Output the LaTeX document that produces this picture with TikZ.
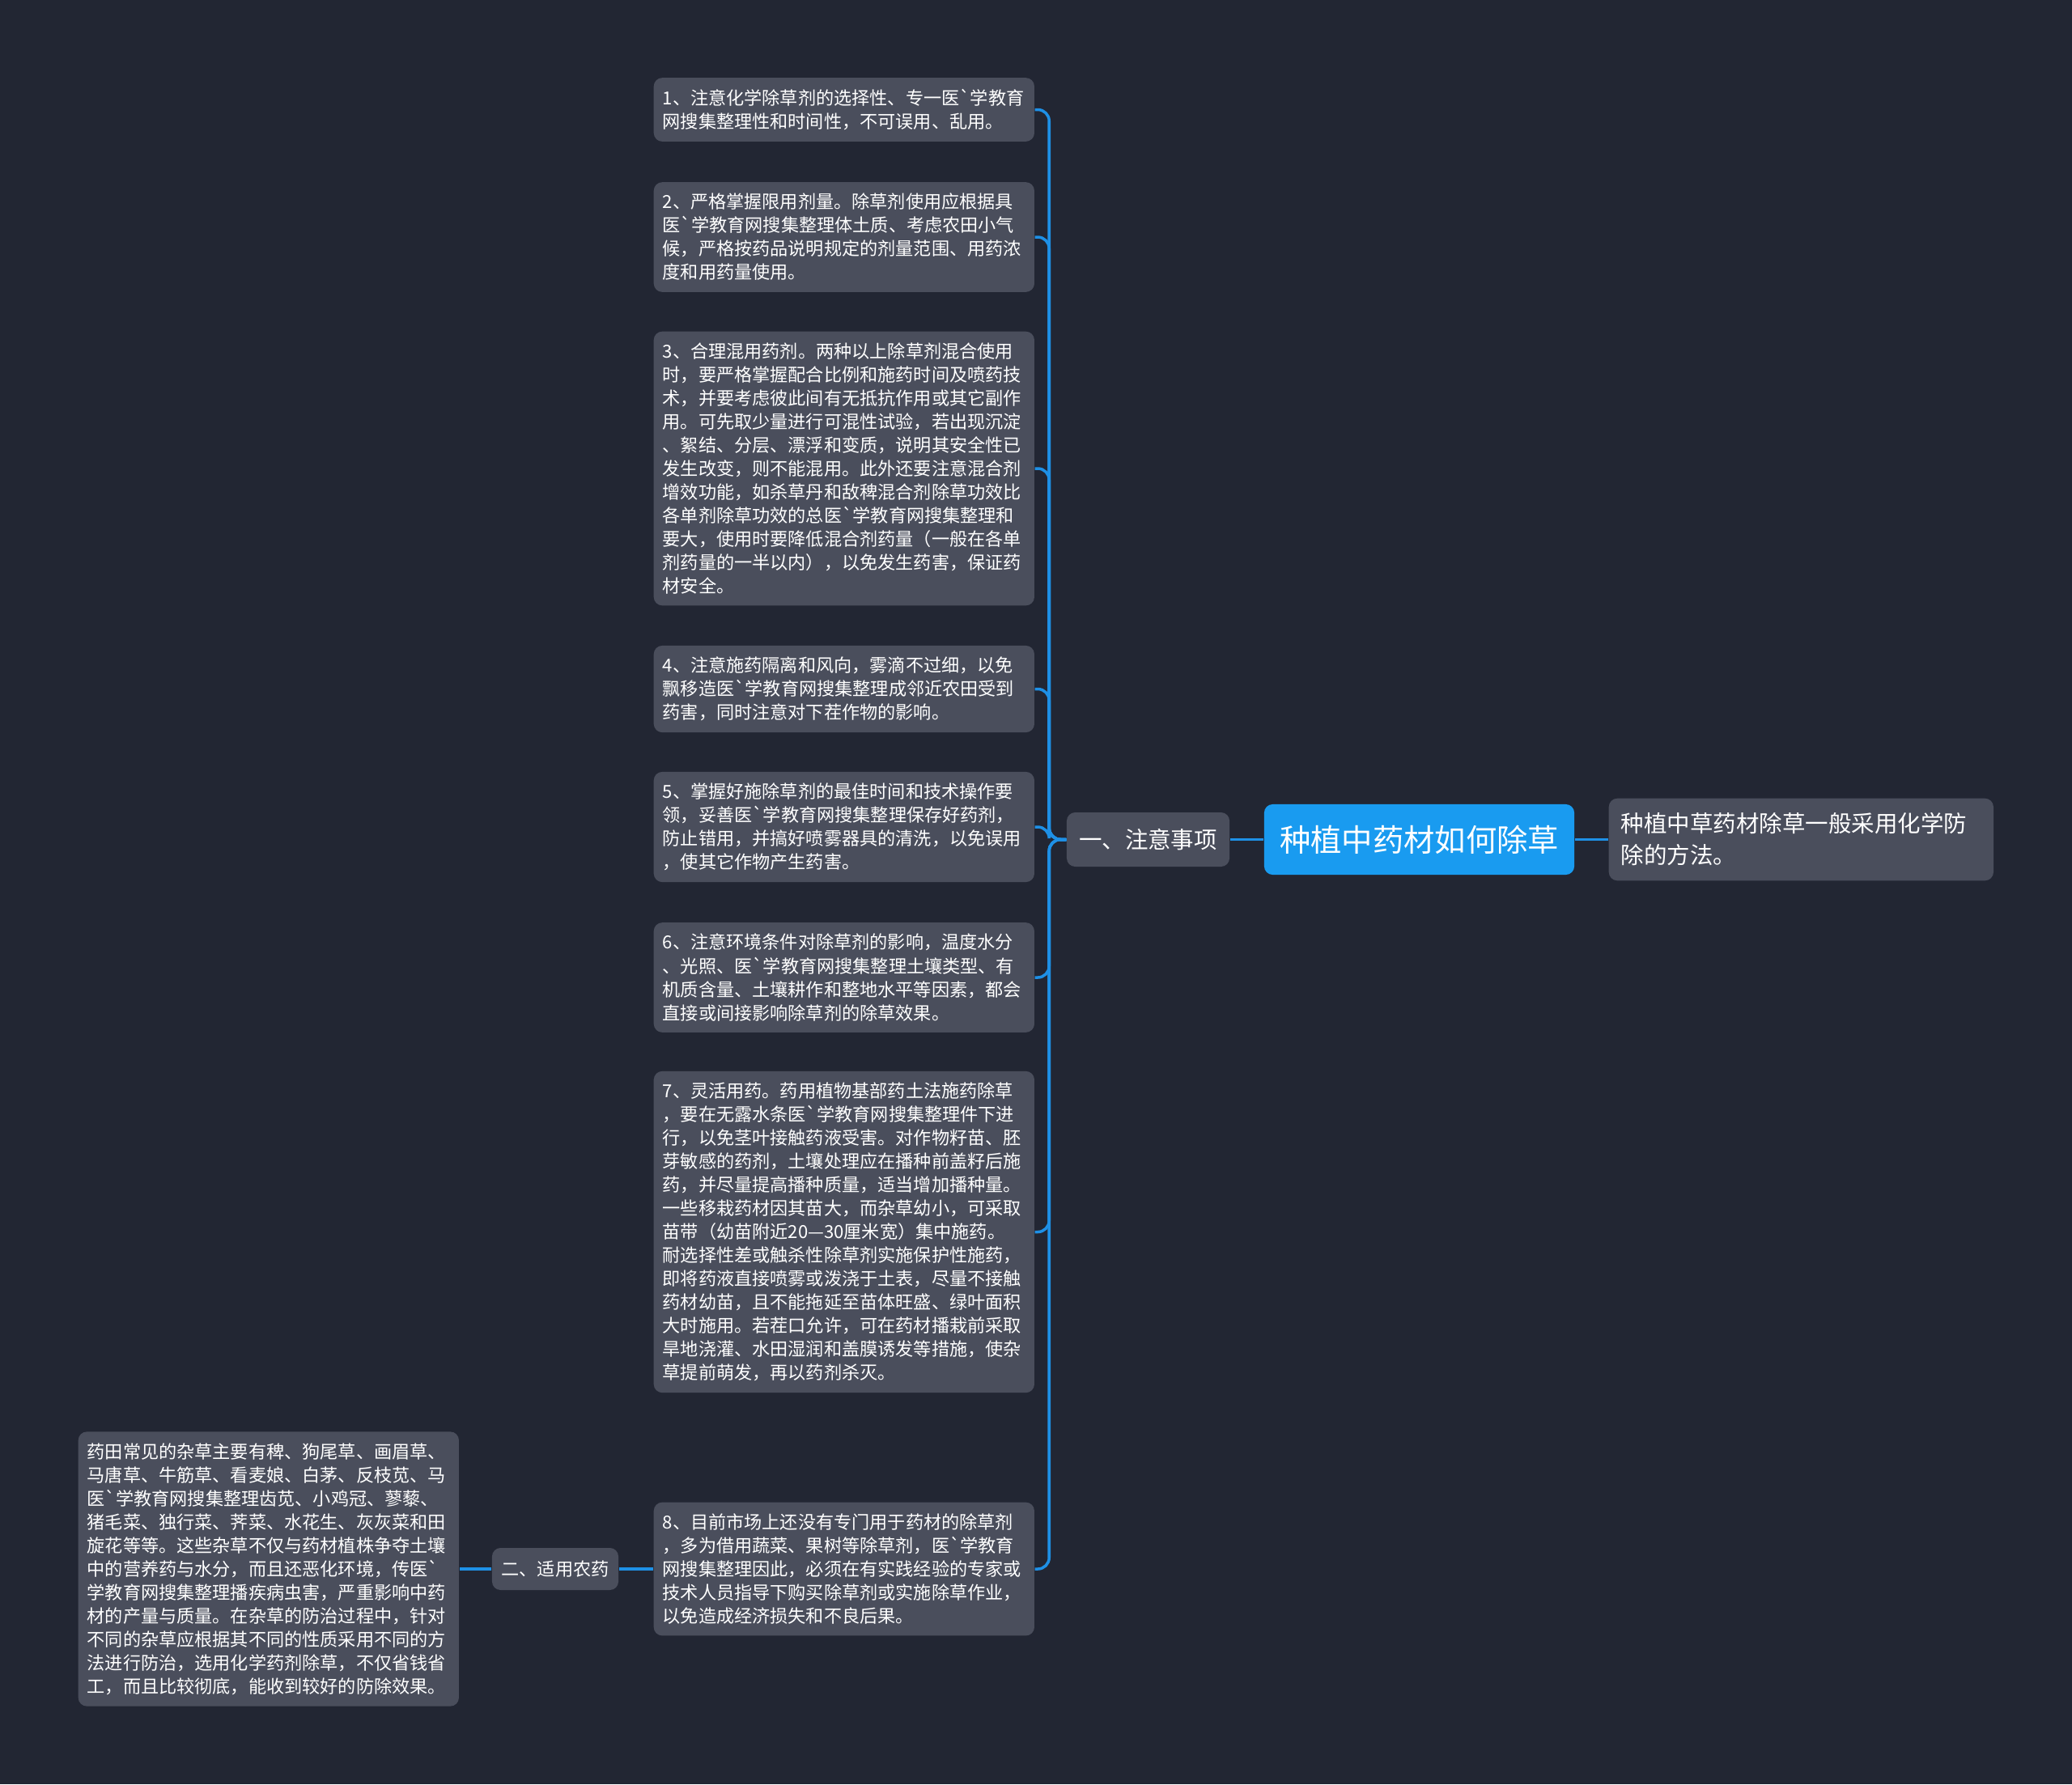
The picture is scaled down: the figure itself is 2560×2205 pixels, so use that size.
\documentclass[tikz,border=0pt]{standalone}
\usepackage{fontspec}
\setmainfont{Noto Sans CJK SC}[Ligatures=TeXOff]
\usepackage{tikz}
\definecolor{bgc}{HTML}{222633}
\definecolor{boxc}{HTML}{4A4E5C}
\definecolor{linec}{HTML}{1E90E6}
\definecolor{rootc}{HTML}{199BF0}

\begin{document}
\begin{tikzpicture}[x=0.01cm,y=-0.01cm]
  \tikzstyle{leaf}=[fill=boxc,text=white,rounded corners=3pt,anchor=west,align=left,
    text width=4.48cm,inner xsep=0.11cm,inner ysep=0.14cm,font=\fontsize{6.3}{8.25}\selectfont]
  \tikzstyle{topic}=[fill=boxc,text=white,rounded corners=3pt,inner sep=0pt]
  \tikzstyle{link}=[draw=linec,line width=1pt,rounded corners=4pt]
  % background and page size
  \fill[bgc] (0,0) rectangle (2560,2205);
  \useasboundingbox (0,0) rectangle (2560,2205);

  % centre
  \node[fill=rootc,text=white,rounded corners=3pt,inner sep=0pt,minimum width=3.83cm,minimum height=0.87cm,
    font=\fontsize{10.9}{13}\selectfont] (root) at (1753.5,1037.5) {种植中药材如何除草};
  \node[topic,anchor=west,align=left,text width=4.45cm,inner xsep=0.15cm,inner ysep=0.18cm,
    font=\fontsize{8.1}{11.1}\selectfont] (intro) at (1987,1037.5) {种植中草药材除草一般采用化学防\\除的方法。};
  \node[topic,minimum width=2.01cm,minimum height=0.67cm,font=\fontsize{8.1}{10}\selectfont] (notes) at (1418.5,1037.5) {一、注意事项};

  % the eight points
  \node[leaf] (p1) at (807,135.5) {1、注意化学除草剂的选择性、专一医`学教育\\网搜集整理性和时间性，不可误用、乱用。};
  \node[leaf] (p2) at (807,293) {2、严格掌握限用剂量。除草剂使用应根据具\\医`学教育网搜集整理体土质、考虑农田小气\\候，严格按药品说明规定的剂量范围、用药浓\\度和用药量使用。};
  \node[leaf] (p3) at (807,579) {3、合理混用药剂。两种以上除草剂混合使用\\时，要严格掌握配合比例和施药时间及喷药技\\术，并要考虑彼此间有无抵抗作用或其它副作\\用。可先取少量进行可混性试验，若出现沉淀\\、絮结、分层、漂浮和变质，说明其安全性已\\发生改变，则不能混用。此外还要注意混合剂\\增效功能，如杀草丹和敌稗混合剂除草功效比\\各单剂除草功效的总医`学教育网搜集整理和\\要大，使用时要降低混合剂药量（一般在各单\\剂药量的一半以内），以免发生药害，保证药\\材安全。};
  \node[leaf] (p4) at (807,851.5) {4、注意施药隔离和风向，雾滴不过细，以免\\飘移造医`学教育网搜集整理成邻近农田受到\\药害，同时注意对下茬作物的影响。};
  \node[leaf] (p5) at (807,1022) {5、掌握好施除草剂的最佳时间和技术操作要\\领，妥善医`学教育网搜集整理保存好药剂，\\防止错用，并搞好喷雾器具的清洗，以免误用\\，使其它作物产生药害。};
  \node[leaf] (p6) at (807,1208) {6、注意环境条件对除草剂的影响，温度水分\\、光照、医`学教育网搜集整理土壤类型、有\\机质含量、土壤耕作和整地水平等因素，都会\\直接或间接影响除草剂的除草效果。};
  \node[leaf] (p7) at (807,1522.5) {7、灵活用药。药用植物基部药土法施药除草\\，要在无露水条医`学教育网搜集整理件下进\\行，以免茎叶接触药液受害。对作物籽苗、胚\\芽敏感的药剂，土壤处理应在播种前盖籽后施\\药，并尽量提高播种质量，适当增加播种量。\\一些移栽药材因其苗大，而杂草幼小，可采取\\苗带（幼苗附近20—30厘米宽）集中施药。\\耐选择性差或触杀性除草剂实施保护性施药，\\即将药液直接喷雾或泼浇于土表，尽量不接触\\药材幼苗，且不能拖延至苗体旺盛、绿叶面积\\大时施用。若茬口允许，可在药材播栽前采取\\旱地浇灌、水田湿润和盖膜诱发等措施，使杂\\草提前萌发，再以药剂杀灭。};
  \node[leaf] (p8) at (807,1939) {8、目前市场上还没有专门用于药材的除草剂\\，多为借用蔬菜、果树等除草剂，医`学教育\\网搜集整理因此，必须在有实践经验的专家或\\技术人员指导下购买除草剂或实施除草作业，\\以免造成经济损失和不良后果。};

  % pesticides
  \node[topic,minimum width=1.56cm,minimum height=0.52cm,font=\fontsize{6.3}{8}\selectfont] (pest) at (686,1939) {二、适用农药};
  \node[leaf] (weeds) at (96,1939) {药田常见的杂草主要有稗、狗尾草、画眉草、\\马唐草、牛筋草、看麦娘、白茅、反枝苋、马\\医`学教育网搜集整理齿苋、小鸡冠、蓼藜、\\猪毛菜、独行菜、荠菜、水花生、灰灰菜和田\\旋花等等。这些杂草不仅与药材植株争夺土壤\\中的营养药与水分，而且还恶化环境，传医`\\学教育网搜集整理播疾病虫害，严重影响中药\\材的产量与质量。在杂草的防治过程中，针对\\不同的杂草应根据其不同的性质采用不同的方\\法进行防治，选用化学药剂除草，不仅省钱省\\工，而且比较彻底，能收到较好的防除效果。};

  \draw[link] (root.west) -- (notes.east);
  \draw[link] (root.east) -- (intro.west);
  \foreach \k in {1,...,8}
    \draw[link] (notes.west) -- ++(-21,0) |- (p\k.east);
  \draw[link] (p8.west) -- (pest.east);
  \draw[link] (pest.west) -- (weeds.east);
\end{tikzpicture}
\end{document}
